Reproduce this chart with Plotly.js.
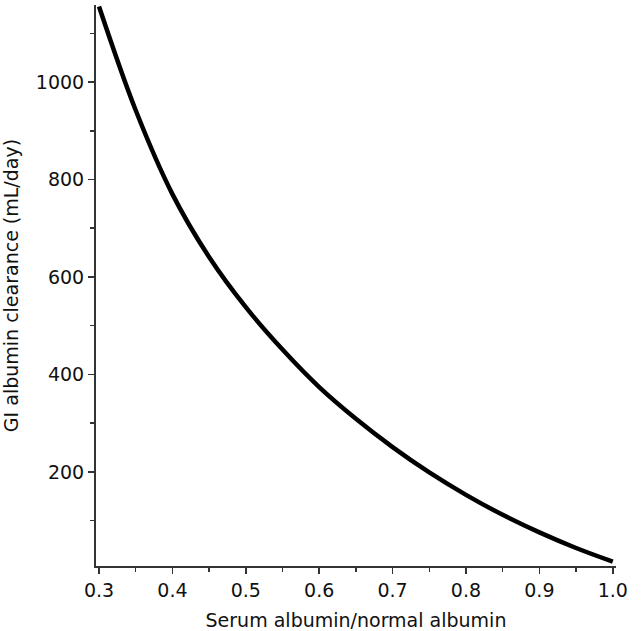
<!DOCTYPE html>
<html>
<head>
<meta charset="utf-8">
<script src="https://cdn.plot.ly/plotly-3.0.1.min.js"></script>
<style>html,body{margin:0;padding:0;background:#fff;}#chart{width:642px;height:631px;}</style>
</head>
<body>
<div id="chart"></div>
<script>
const albuminRatio = [0.30, 0.35, 0.40, 0.45, 0.50, 0.55, 0.60, 0.65, 0.70, 0.75, 0.80, 0.85, 0.90, 0.95, 1.00];
const giClearance  = [1155, 942, 770, 641, 538, 451, 374, 309, 251, 199, 153, 112, 76, 44, 16];
const xTickVals = [0.3, 0.4, 0.5, 0.6, 0.7, 0.8, 0.9, 1.0];
const xTickText = ["0.3", "0.4", "0.5", "0.6", "0.7", "0.8", "0.9", "1.0"];
const yTickVals = [200, 400, 600, 800, 1000];

const trace = {
  x: albuminRatio,
  y: giClearance,
  type: 'scatter',
  mode: 'lines',
  line: {color: '#000', width: 4.5, shape: 'spline', smoothing: 1},
  cliponaxis: false,
  hoverinfo: 'skip'
};

const axisFont = {family: 'DejaVu Sans, sans-serif', size: 19, color: '#111'};

const layout = {
  width: 642, height: 631,
  margin: {l: 96, r: 26, t: 5, b: 65},
  paper_bgcolor: '#fff', plot_bgcolor: '#fff',
  showlegend: false,
  font: axisFont,
  xaxis: {
    range: [0.2959, 1.0044],
    tickvals: xTickVals, ticktext: xTickText,
    ticks: 'outside', ticklen: 6, tickwidth: 1.5, tickcolor: '#333',
    minor: {dtick: 0.05, ticks: 'outside', ticklen: 4, tickwidth: 1.5, tickcolor: '#333', tick0: 0.3},
    showline: true, linecolor: '#333', linewidth: 2,
    showgrid: false, zeroline: false,
    tickfont: axisFont,
    title: {text: 'Serum albumin/normal albumin', font: axisFont, standoff: 14}
  },
  yaxis: {
    range: [7, 1158],
    tickvals: yTickVals,
    ticks: 'outside', ticklen: 6, tickwidth: 1.5, tickcolor: '#333',
    minor: {dtick: 100, tick0: 0, ticks: 'outside', ticklen: 4, tickwidth: 1.5, tickcolor: '#333'},
    showline: true, linecolor: '#333', linewidth: 2,
    showgrid: false, zeroline: false,
    tickfont: axisFont,
    title: {text: 'GI albumin clearance (mL/day)', font: axisFont, standoff: 12}
  }
};

Plotly.newPlot('chart', [trace], layout, {staticPlot: true, displayModeBar: false});
</script>
</body>
</html>
